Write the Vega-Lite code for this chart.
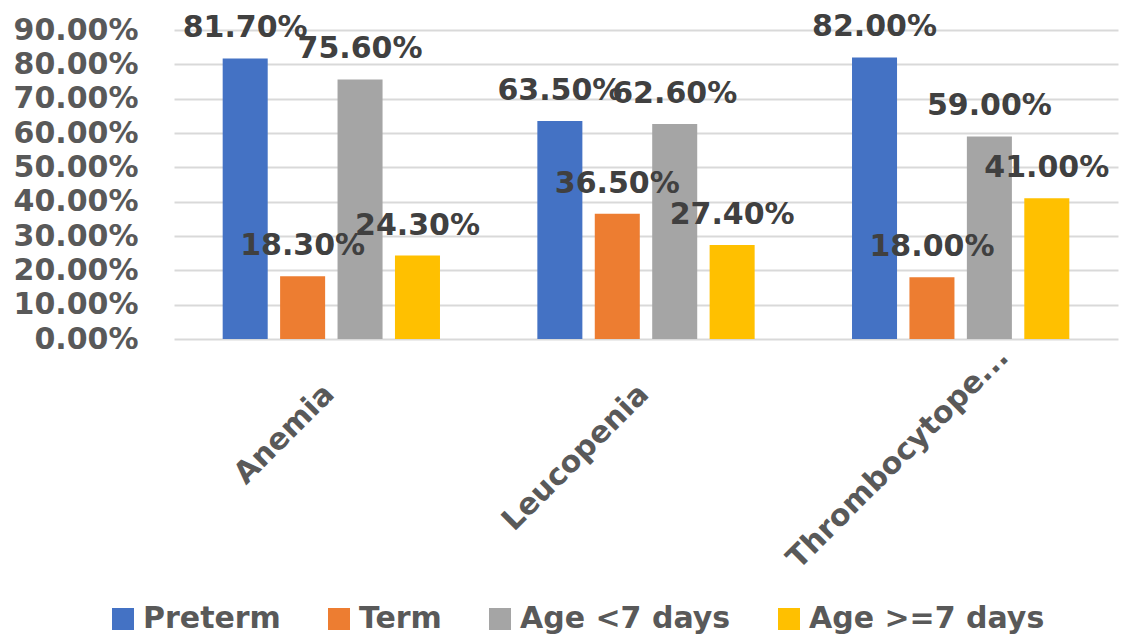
{
  "$schema": "https://vega.github.io/schema/vega-lite/v6.json",
  "width": 944,
  "height": 309,
  "autosize": "none",
  "padding": {"left": 174, "top": 30, "right": 8, "bottom": 298},
  "background": "white",
  "config": {"view": {"stroke": null}, "font": "DejaVu Sans"},
  "data": {
    "values": [
      {"disorder": "Anemia", "group": "Preterm", "value": 0.817},
      {"disorder": "Anemia", "group": "Term", "value": 0.183},
      {"disorder": "Anemia", "group": "Age <7 days", "value": 0.756},
      {"disorder": "Anemia", "group": "Age >=7 days", "value": 0.243},
      {"disorder": "Leucopenia", "group": "Preterm", "value": 0.635},
      {"disorder": "Leucopenia", "group": "Term", "value": 0.365},
      {"disorder": "Leucopenia", "group": "Age <7 days", "value": 0.626},
      {"disorder": "Leucopenia", "group": "Age >=7 days", "value": 0.274},
      {"disorder": "Thrombocytopenia", "group": "Preterm", "value": 0.82},
      {"disorder": "Thrombocytopenia", "group": "Term", "value": 0.18},
      {"disorder": "Thrombocytopenia", "group": "Age <7 days", "value": 0.59},
      {"disorder": "Thrombocytopenia", "group": "Age >=7 days", "value": 0.41}
    ]
  },
  "encoding": {
    "x": {
      "field": "disorder",
      "type": "nominal",
      "sort": ["Anemia", "Leucopenia", "Thrombocytopenia"],
      "scale": {"paddingInner": 0.27, "paddingOuter": 0.135},
      "axis": {
        "title": null,
        "domain": false,
        "ticks": false,
        "grid": false,
        "labelAngle": -45,
        "labelAlign": "right",
        "labelBaseline": "middle",
        "labelPadding": {"condition": {"test": "datum.value == 'Thrombocytopenia'", "value": 13}, "value": 50},
        "labelOffset": {"condition": {"test": "datum.value == 'Thrombocytopenia'", "value": 43}, "value": -2},
        "labelFont": "DejaVu Sans",
        "labelFontWeight": "bold",
        "labelFontSize": 30,
        "labelColor": "#595959",
        "labelLimit": 0,
        "labelExpr": "datum.value == 'Thrombocytopenia' ? 'Thrombocytope...' : datum.value"
      }
    },
    "xOffset": {
      "field": "group",
      "type": "nominal",
      "sort": ["Preterm", "Term", "Age <7 days", "Age >=7 days"],
      "scale": {"paddingInner": 0.216, "paddingOuter": 0.108}
    },
    "y": {
      "field": "value",
      "type": "quantitative",
      "scale": {"domain": [0, 0.9], "nice": false},
      "axis": {
        "title": null,
        "values": [0, 0.1, 0.2, 0.3, 0.4, 0.5, 0.6, 0.7, 0.8, 0.9],
        "format": ".2%",
        "domain": false,
        "ticks": false,
        "grid": true,
        "gridColor": "#d9d9d9",
        "gridWidth": 2,
        "labelPadding": 36,
        "labelFont": "DejaVu Sans",
        "labelFontWeight": "bold",
        "labelFontSize": 30,
        "labelColor": "#595959"
      }
    }
  },
  "layer": [
    {
      "mark": {"type": "bar"},
      "encoding": {
        "color": {
          "field": "group",
          "type": "nominal",
          "sort": ["Preterm", "Term", "Age <7 days", "Age >=7 days"],
          "scale": {
            "domain": ["Preterm", "Term", "Age <7 days", "Age >=7 days"],
            "range": ["#4472C4", "#ED7D31", "#A5A5A5", "#FFC000"]
          },
          "legend": {
            "title": null,
            "orient": "none",
            "legendX": -66,
            "legendY": 574,
            "direction": "horizontal",
            "columns": 4,
            "padding": 0,
            "symbolType": "square",
            "symbolSize": 484,
            "symbolStrokeWidth": 0,
            "symbolOpacity": 1,
            "labelFont": "DejaVu Sans",
            "labelFontWeight": "bold",
            "labelFontSize": 30,
            "labelColor": "#595959",
            "labelOffset": 5,
            "labelLimit": 0,
            "columnPadding": 43
          }
        }
      }
    },
    {
      "mark": {
        "type": "text",
        "baseline": "alphabetic",
        "align": "center",
        "dy": -21,
        "font": "DejaVu Sans",
        "fontWeight": "bold",
        "fontSize": 30,
        "color": "#404040"
      },
      "encoding": {
        "text": {"field": "value", "type": "quantitative", "format": ".2%"}
      }
    }
  ]
}
